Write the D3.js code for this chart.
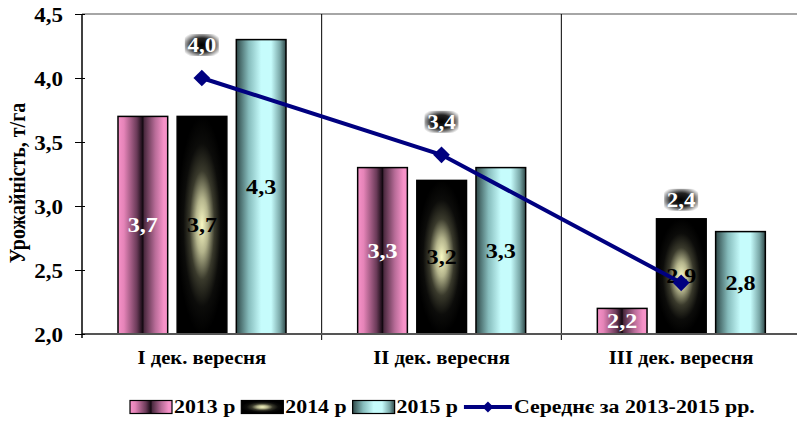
<!DOCTYPE html>
<html>
<head>
<meta charset="utf-8">
<script src="https://cdn.jsdelivr.net/npm/d3@7"></script>
<style>
  body { margin: 0; background: #fff; }
</style>
</head>
<body>
<svg id="chart" width="797" height="421"></svg>
<script>
// Chart data
const categories = ["I дек. вересня", "II дек. вересня", "III дек. вересня"];
const seriesNames = ["2013 р", "2014 р", "2015 р"];
const values2013 = [3.7, 3.3, 2.2];
const values2014 = [3.7, 3.2, 2.9];
const values2015 = [4.3, 3.3, 2.8];
const meanValues = [4.0, 3.4, 2.4];
const meanName = "Середнє за 2013-2015 рр.";
const yTicks = [2.0, 2.5, 3.0, 3.5, 4.0, 4.5];

const FONT = "'Liberation Serif', 'Times New Roman', serif";
const STRETCH = 1.15; // text in the original is a bit wide
const svg = d3.select("#chart");
const W = 797, H = 421;
const plot = { left: 82, right: 801, top: 14, bottom: 334 };

const x = d3.scaleBand().domain(categories).range([plot.left, plot.right]);
const xs = d3.scaleBand().domain(seriesNames).range([36, 204]).paddingInner(0.16);
const y = d3.scaleLinear().domain([2.0, 4.5]).range([plot.bottom, plot.top]);
const fmt = v => d3.format(".1f")(v).replace(".", ",");

// Gradients
const defs = svg.append("defs");
function linGrad(id, stops) {
  const g = defs.append("linearGradient").attr("id", id)
    .attr("x1", "0%").attr("x2", "100%").attr("y1", "0%").attr("y2", "0%");
  stops.forEach(s => g.append("stop").attr("offset", s[0]).attr("stop-color", s[1]));
}
linGrad("g2013", [[0, "#f692c8"], [0.12, "#e584b8"], [0.38, "#6a3a58"], [0.5, "#120810"],
                  [0.53, "#4c2a40"], [0.75, "#b86c98"], [0.92, "#f692c8"], [1, "#f692c8"]]);
linGrad("g2015", [[0, "#2e4848"], [0.25, "#86bcbc"], [0.5, "#c6fcfc"], [0.7, "#c6fcfc"],
                  [0.88, "#7aa8a8"], [1, "#2e4848"]]);
const rg = defs.append("radialGradient").attr("id", "g2014")
  .attr("cx", "50%").attr("cy", "50%").attr("r", "50%");
[[0, "#fafac4"], [0.25, "#b4b48c"], [0.5, "#3a3a2c"], [0.75, "#0c0c0a"], [1, "#000"]]
  .forEach(s => rg.append("stop").attr("offset", s[0]).attr("stop-color", s[1]));
const lg = defs.append("radialGradient").attr("id", "gLabel")
  .attr("cx", "50%").attr("cy", "50%").attr("r", "62%");
[[0, "#000"], [0.5, "#222"], [0.8, "#aaa"], [1, "#fff"]]
  .forEach(s => lg.append("stop").attr("offset", s[0]).attr("stop-color", s[1]));

const fills = { "2013 р": "url(#g2013)", "2014 р": "url(#g2014)", "2015 р": "url(#g2015)" };
const labelColors = { "2013 р": "#fff", "2014 р": "#000", "2015 р": "#000" };
const seriesValues = { "2013 р": values2013, "2014 р": values2014, "2015 р": values2015 };

// Top gridline
svg.append("line")
  .attr("x1", plot.left).attr("x2", W)
  .attr("y1", y(4.5)).attr("y2", y(4.5))
  .attr("stroke", "#888").attr("stroke-width", 1.5);

// Category separators
categories.slice(1).forEach(c => {
  svg.append("line")
    .attr("x1", x(c)).attr("x2", x(c))
    .attr("y1", plot.top).attr("y2", plot.bottom + 6)
    .attr("stroke", "#000").attr("stroke-width", 1);
});

// Bars
const barData = [];
categories.forEach((c, i) => {
  seriesNames.forEach(s => barData.push({ cat: c, series: s, value: seriesValues[s][i] }));
});

svg.append("g").selectAll("rect").data(barData).enter().append("rect")
  .attr("x", d => x(d.cat) + xs(d.series))
  .attr("y", d => y(d.value))
  .attr("width", xs.bandwidth())
  .attr("height", d => plot.bottom - y(d.value))
  .attr("fill", d => fills[d.series])
  .attr("stroke", "#000").attr("stroke-width", 1.5);

// Bar labels
svg.append("g").selectAll("text").data(barData).enter().append("text")
  .attr("x", d => x(d.cat) + xs(d.series) + xs.bandwidth() / 2)
  .attr("y", d => (y(d.value) + plot.bottom) / 2 + 7)
  .attr("text-anchor", "middle")
  .style("font-size", "21px")
  .attr("fill", d => labelColors[d.series])
  .text(d => fmt(d.value));

// X axis line
svg.append("line")
  .attr("x1", plot.left).attr("x2", W)
  .attr("y1", plot.bottom).attr("y2", plot.bottom)
  .attr("stroke", "#555").attr("stroke-width", 2);

// Y axis
const yAxis = d3.axisLeft(y).tickValues(yTicks).tickSize(6).tickFormat(fmt);
const ya = svg.append("g").attr("transform", `translate(${plot.left},0)`).call(yAxis);
ya.select(".domain").attr("stroke", "#000").attr("stroke-width", 1.5)
  .attr("d", `M0,${plot.top}V${plot.bottom + 4}`);
ya.selectAll(".tick line").attr("stroke", "#000").attr("x2", -7).attr("x1", 3);
ya.selectAll(".tick text")
  .attr("x", -19).attr("y", 7).attr("dy", null)
  .style("font-size", "20px").attr("fill", "#000");

// X labels
svg.append("g").selectAll("text").data(categories).enter().append("text")
  .attr("x", d => x(d) + x.bandwidth() / 2)
  .attr("y", 364)
  .attr("text-anchor", "middle")
  .style("font-size", "18px")
  .text(d => d);

// Mean line
const cx = c => x(c) + x.bandwidth() / 2;
const line = d3.line().x((d, i) => cx(categories[i])).y(d => y(d));
svg.append("path").datum(meanValues)
  .attr("d", line)
  .attr("fill", "none").attr("stroke", "#000080").attr("stroke-width", 4);

svg.append("g").selectAll("path").data(meanValues).enter().append("path")
  .attr("d", d3.symbol().type(d3.symbolSquare).size(140))
  .attr("transform", (d, i) => `translate(${cx(categories[i])},${y(d)}) rotate(45)`)
  .attr("fill", "#000080");

// Mean labels
const meanLabels = svg.append("g").selectAll("g").data(meanValues).enter().append("g")
  .attr("transform", (d, i) => {
    const midBarTop = y(values2014[i]);
    const ly = Math.min(y(d) - 33, midBarTop - 19);
    return `translate(${cx(categories[i])},${ly})`;
  });
meanLabels.append("rect")
  .attr("x", -17).attr("y", -11).attr("width", 34).attr("height", 22)
  .attr("fill", "url(#gLabel)");
meanLabels.append("text")
  .attr("text-anchor", "middle").attr("y", 7)
  .style("font-size", "20px").attr("fill", "#fff")
  .text(d => fmt(d));

// Font for every text, stretched a little like the original
svg.selectAll("text").style("font-family", FONT).style("font-weight", "bold")
  .each(function() {
    const t = d3.select(this);
    const tx = +t.attr("x") || 0, ty = +t.attr("y") || 0;
    t.attr("x", 0).attr("y", 0)
      .attr("transform", `translate(${tx},${ty}) scale(${STRETCH},1)`);
  });

// Y title (rotated, widened across its glyphs)
svg.append("text")
  .attr("transform", `translate(25,183) scale(${STRETCH},1) rotate(-90)`)
  .attr("text-anchor", "middle")
  .style("font-family", FONT).style("font-weight", "bold")
  .style("font-size", "20px")
  .text("Урожайність, т/га");

// Legend
const legend = svg.append("g").attr("transform", "translate(130,407)");
function legendText(px, txt) {
  const t = legend.append("text")
    .attr("transform", `translate(${px},6) scale(${STRETCH},1)`)
    .style("font-family", FONT).style("font-weight", "bold")
    .style("font-size", "19px")
    .text(txt);
  return t.node().getComputedTextLength() * STRETCH;
}
let lx = 0;
seriesNames.forEach(s => {
  legend.append("rect")
    .attr("x", lx).attr("y", -6.5).attr("width", 42).attr("height", 13)
    .attr("fill", fills[s]).attr("stroke", "#000").attr("stroke-width", 1.2);
  lx += 44 + legendText(lx + 44, s) + 6;
});
legend.append("line")
  .attr("x1", lx).attr("x2", lx + 48).attr("y1", 0).attr("y2", 0)
  .attr("stroke", "#000080").attr("stroke-width", 4);
legend.append("path")
  .attr("d", d3.symbol().type(d3.symbolSquare).size(60))
  .attr("transform", `translate(${lx + 24},0) rotate(45)`)
  .attr("fill", "#000080");
legendText(lx + 50, meanName);
</script>
</body>
</html>
